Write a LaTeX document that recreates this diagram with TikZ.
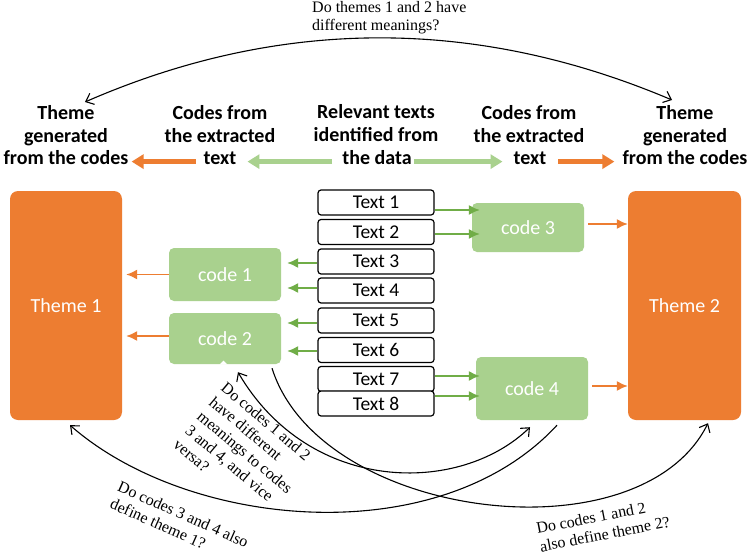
\documentclass[tikz,border=0pt]{standalone}
\usepackage{fontspec}
\setmainfont{Carlito}
\newfontfamily\serifL{Liberation Serif}
\usetikzlibrary{arrows.meta,calc}
\definecolor{orng}{HTML}{ED7D31}
\definecolor{lgreen}{HTML}{A9D18E}
\definecolor{dgreen}{HTML}{70AD47}
\begin{document}
\begin{tikzpicture}[x=1pt,y=-1pt,
  themebox/.style={fill=orng, rounded corners=8pt, text=white, font=\fontsize{20}{24}\selectfont, minimum width=112pt, minimum height=229pt, inner sep=0},
  codebox/.style={fill=lgreen, rounded corners=5pt, text=white, font=\fontsize{20}{24}\selectfont, minimum width=112pt, inner sep=0},
  textbox/.style={draw=black, line width=1.2pt, fill=white, rounded corners=3pt, minimum width=116pt, minimum height=25pt, inner sep=0, font=\fontsize{19.5}{23}\selectfont},
  hdr/.style={font=\bfseries\fontsize{20}{23}\selectfont, align=center, inner sep=0},
  garrow/.style={dgreen, line width=1.5pt, -{Latex[length=11pt,width=10pt]}},
  oarrow/.style={orng, line width=1.5pt, -{Latex[length=11pt,width=10pt]}},
  bigarrow/.style={line width=4.5pt, -{Triangle[length=12pt,width=14pt]}},
  qline/.style={black, line width=1.1pt},
  qtext/.style={font=\serifL\fontsize{16}{18.5}\selectfont, align=left, inner sep=0},
  >={Straight Barb[length=7pt,width=12pt]}
]
\useasboundingbox[fill=white] (0,0) rectangle (750,554);

% headers
\node[hdr, anchor=north] (hTLa) at (66,105) {Theme\\generated};
\node[hdr, anchor=base] (hTLb) at (66,164) {from the codes};
\node[hdr, anchor=north] (hCLa) at (220,105) {Codes from\\the extracted};
\node[hdr, anchor=base] (hCLb) at (220,164) {text};
\node[hdr, anchor=north] (hRa) at (376,104) {Relevant texts\\identified from};
\node[hdr, anchor=base] (hRb) at (377,164) {the data};
\node[hdr, anchor=north] (hCRa) at (529,105) {Codes from\\the extracted};
\node[hdr, anchor=base] (hCRb) at (530,164) {text};
\node[hdr, anchor=north] (hTRa) at (685,105) {Theme\\generated};
\node[hdr, anchor=base] (hTRb) at (685,164) {from the codes};

\draw[bigarrow, orng, shorten <=8pt, shorten >=3pt] (hCLb.mid west) -- (hTLb.mid east);
\draw[bigarrow, lgreen, shorten <=10pt, shorten >=11pt] (hRb.mid west) -- (hCLb.mid east);
\draw[bigarrow, lgreen, shorten <=2pt, shorten >=11pt] (hRb.mid east) -- (hCRb.mid west);
\draw[bigarrow, orng, shorten <=12pt, shorten >=8pt] (hCRb.mid east) -- (hTRb.mid west);

% themes
\node[themebox] (th1) at (66,305.5) {Theme 1};
\node[themebox, minimum width=113pt] (th2) at (684.5,305.5) {Theme 2};

% codes
\node[codebox, minimum height=53pt] (c1) at (225,274.5) {code 1};
\node[codebox, minimum height=51pt] (c2) at (225,338.5) {code 2};
\node[codebox, minimum height=49pt] (c3) at (528,227.5) {code 3};
\node[codebox, minimum height=63pt] (c4) at (532,388.5) {code 4};
\fill[white] (219.5,364.5) -- (223.5,360.5) -- (227.5,364.5) -- cycle;

% texts
\node[textbox] (t1) at (376,202.5) {Text 1};
\node[textbox] (t2) at (376,232) {Text 2};
\node[textbox] (t3) at (376,261.5) {Text 3};
\node[textbox] (t4) at (376,290.5) {Text 4};
\node[textbox] (t5) at (376,320.5) {Text 5};
\node[textbox] (t6) at (376,350) {Text 6};
\node[textbox] (t7) at (376,379) {Text 7};
\node[textbox] (t8) at (376,403.5) {Text 8};

% green arrows
\draw[garrow, shorten >=-8pt] ([yshift=-7.5pt]t1.east) -- ([yshift=-7.5pt]t1.east -| c3.west);
\draw[garrow, shorten >=-8pt] ([yshift=-2pt]t2.east) -- ([yshift=-2pt]t2.east -| c3.west);
\draw[garrow, shorten >=6pt] ([yshift=-1.5pt]t3.west) -- ([yshift=-1.5pt]t3.west -| c1.east);
\draw[garrow, shorten >=6pt] ([yshift=2.5pt]t4.west) -- ([yshift=2.5pt]t4.west -| c1.east);
\draw[garrow, shorten >=6pt] ([yshift=-2.5pt]t5.west) -- ([yshift=-2.5pt]t5.west -| c2.east);
\draw[garrow, shorten >=6pt] ([yshift=-1pt]t6.west) -- ([yshift=-1pt]t6.west -| c2.east);
\draw[garrow, shorten >=-4pt] ([yshift=3pt]t7.east) -- ([yshift=3pt]t7.east -| c4.west);
\draw[garrow, shorten >=-4pt] ([yshift=7.5pt]t8.east) -- ([yshift=7.5pt]t8.east -| c4.west);

% orange arrows
\draw[oarrow, shorten >=4pt] (c1.west) -- (c1.west -| th1.east);
\draw[oarrow, shorten >=4pt] ([yshift=2.5pt]c2.west) -- ([yshift=2.5pt]c2.west -| th1.east);
\draw[oarrow, shorten <=4pt] ([yshift=3.5pt]c3.east) -- ([yshift=3.5pt]c3.east -| th2.west);
\draw[oarrow, shorten <=4pt] ([yshift=2.5pt]c4.east) -- ([yshift=2.5pt]c4.east -| th2.west);

% question curves
\draw[qline, <->] ([xshift=19pt,yshift=3pt]hTLa.north) .. controls (280,17) and (476,17) .. ([xshift=-13pt,yshift=5pt]hTRa.north);
\draw[qline, ->] ([xshift=25pt,yshift=-5pt]c4.south) .. controls (440,552) and (190,530) .. ([xshift=4pt,yshift=-5pt]th1.south);
\draw[qline, <->] ([xshift=13pt,yshift=-8pt]c2.south) .. controls (310,495) and (460,495) .. ([xshift=-2pt,yshift=-7pt]c4.south);
\draw[qline, ->] ([xshift=47pt,yshift=-4pt]c2.south) .. controls (320,520) and (640,560) .. ([xshift=23.5pt,yshift=-3pt]th2.south);

% question labels
\node[qtext, anchor=north west] (qT) at (312,1) {Do themes 1 and 2 have\\different meanings?};
\node[qtext, rotate=-40] (qB) at (245,452) {Do codes 1 and 2\\have different\\meanings to codes\\3 and 4, and vice\\versa?};
\node[qtext, rotate=-24] (qA) at (179.5,523) {Do codes 3 and 4 also\\define theme 1?};
\node[qtext, rotate=11] (qC) at (603,525) {Do codes 1 and 2\\also define theme 2?};
\end{tikzpicture}
\end{document}
